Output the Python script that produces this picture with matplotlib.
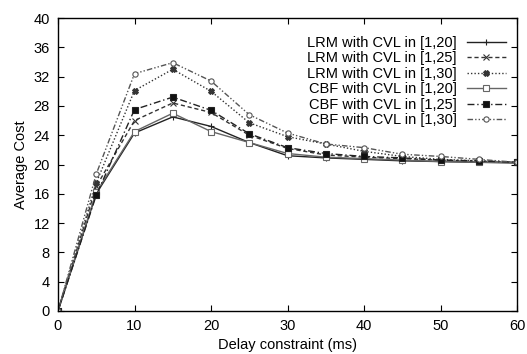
import matplotlib
matplotlib.use("Agg")
import matplotlib.pyplot as plt

plt.rcParams['font.family'] = ['Liberation Sans', 'DejaVu Sans']

delay = [0, 5, 10, 15, 20, 25, 30, 35, 40, 45, 50, 55, 60]

lrm_20 = [0, 16.0, 24.3, 26.5, 25.2, 23.0, 21.2, 20.9, 20.7, 20.5, 20.4, 20.3, 20.2]
lrm_25 = [0, 17.0, 26.0, 28.4, 27.1, 24.0, 22.2, 21.3, 21.0, 20.8, 20.6, 20.4, 20.3]
lrm_30 = [0, 17.5, 30.1, 33.0, 30.0, 25.7, 23.8, 22.8, 21.8, 21.1, 20.7, 20.5, 20.3]
cbf_20 = [0, 16.2, 24.5, 27.0, 24.5, 23.0, 21.5, 21.0, 20.8, 20.6, 20.4, 20.3, 20.3]
cbf_25 = [0, 15.8, 27.5, 29.2, 27.4, 24.2, 22.3, 21.5, 21.1, 20.9, 20.6, 20.5, 20.3]
cbf_30 = [0, 18.7, 32.4, 33.9, 31.4, 26.8, 24.3, 22.8, 22.3, 21.4, 21.1, 20.7, 20.3]

labels = ["LRM with CVL in [1,20]", "LRM with CVL in [1,25]", "LRM with CVL in [1,30]",
          "CBF with CVL in [1,20]", "CBF with CVL in [1,25]", "CBF with CVL in [1,30]"]

fig = plt.figure(figsize=(5.27, 3.54), dpi=100)
ax = fig.add_axes([58 / 527, 1 - 311 / 354, 459 / 527, 293 / 354])

styles = [
    (lrm_20, "-", "+", "none", "#222222"),
    (lrm_25, (0, (3, 2)), "x", "none", "#333333"),
    (lrm_30, (0, (1, 1.5)), "X", "#333333", "#333333"),
    (cbf_20, "-", "s", "white", "#666666"),
    (cbf_25, (0, (5, 2, 1, 2)), "s", "#111111", "#222222"),
    (cbf_30, (0, (4, 1.5, 1, 1.5, 1, 1.5)), "o", "white", "#555555"),
]
for (vals, ls, mk, fc, col), lab in zip(styles, labels):
    ax.plot(delay, vals, linestyle=ls, marker=mk, markersize=3.8, markerfacecolor=fc,
            markeredgecolor=col, color=col, linewidth=1.0, markeredgewidth=0.8, label=lab)

ax.set_xlim(0, 60)
ax.set_ylim(0, 40)
ax.set_xticks(range(0, 61, 10))
ax.set_yticks(range(0, 41, 4))
ax.tick_params(direction="in", top=True, right=True, labelsize=10.5, length=4, pad=6)
ax.set_xlabel("Delay constraint (ms)", fontsize=10.5, labelpad=3)
ax.set_ylabel("Average Cost", fontsize=10.5, labelpad=4)
for s in ax.spines.values():
    s.set_linewidth(1.0)

ax.legend(loc="upper right", bbox_to_anchor=(506 / 527, 1 - 36 / 354),
          bbox_transform=fig.transFigure, frameon=False, markerfirst=False,
          fontsize=10.5, handlelength=2.7, labelspacing=0.1, borderaxespad=0.0,
          borderpad=0.0, handletextpad=0.7)

fig.savefig("out.png", dpi=100)
